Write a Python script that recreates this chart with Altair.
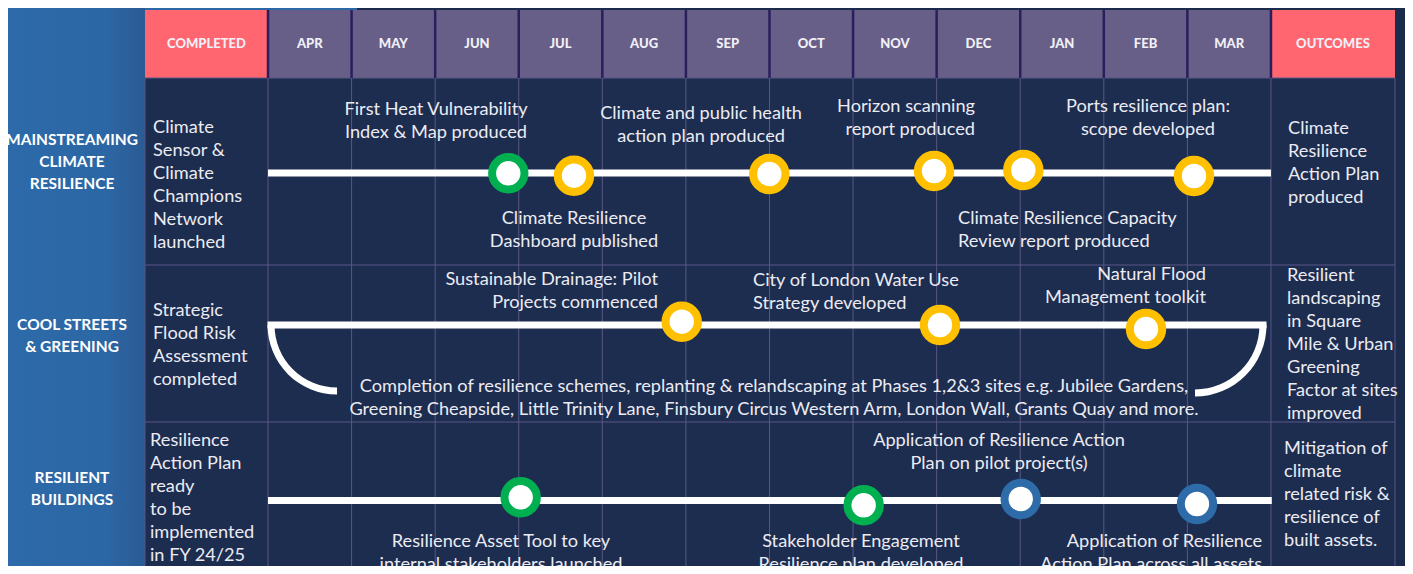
import altair as alt
import pandas as pd
import math

# ---------------- data ----------------
MONTHS = ["APR", "MAY", "JUN", "JUL", "AUG", "SEP", "OCT", "NOV", "DEC", "JAN", "FEB", "MAR"]
HEADERS = ["COMPLETED"] + MONTHS + ["OUTCOMES"]

THEMES = ["MAINSTREAMING\nCLIMATE\nRESILIENCE", "COOL STREETS\n& GREENING", "RESILIENT\nBUILDINGS"]
COMPLETED = [
    "Climate\nSensor &\nClimate\nChampions\nNetwork\nlaunched",
    "Strategic\nFlood Risk\nAssessment\ncompleted",
    "Resilience\nAction Plan\nready\nto be\nimplemented\nin FY 24/25",
]
OUTCOMES = [
    "Climate\nResilience\nAction Plan\nproduced",
    "Resilient\nlandscaping\nin Square\nMile & Urban\nGreening\nFactor at sites\nimproved",
    "Mitigation of\nclimate\nrelated risk &\nresilience of\nbuilt assets.",
]

# milestones: position in months from start of APR
EVENT_ROW = [0, 0, 0, 0, 0, 0, 1, 1, 1, 2, 2, 2, 2]
EVENT_MONTH = [2.875, 3.661, 5.998, 7.969, 9.037, 11.079, 4.950, 8.040, 10.505, 3.023, 7.127, 9.006, 11.115]
EVENT_SHIFT = [0.3, 2.7, 1.0, -2.0, -3.0, 3.0, -3.3, 0.0, 4.0, -3.2, 4.8, -1.5, 3.5]
EVENT_STATUS = ["Completed", "In progress", "In progress", "In progress", "In progress", "In progress",
                "In progress", "In progress", "In progress",
                "Completed", "Completed", "Planned", "Planned"]
STATUS_NAMES = ["Completed", "In progress", "Planned"]
STATUS_COLORS = ["#00b050", "#ffc000", "#2e6ca9"]

LABEL_TEXT = [
    "First Heat Vulnerability\nIndex & Map produced",
    "Climate and public health\naction plan produced",
    "Horizon scanning\nreport produced",
    "Ports resilience plan:\nscope developed",
    "Climate Resilience\nDashboard published",
    "Climate Resilience Capacity\nReview report produced",
    "Sustainable Drainage: Pilot\nProjects commenced",
    "City of London Water Use\nStrategy  developed",
    "Natural Flood\nManagement toolkit",
    "Completion of resilience schemes, replanting & relandscaping at Phases 1,2&3 sites e.g. Jubilee Gardens,\n"
    "Greening Cheapside, Little Trinity Lane, Finsbury Circus Western Arm, London Wall, Grants Quay and more.",
    "Application of Resilience Action\nPlan on pilot project(s)",
    "Resilience Asset Tool to key\ninternal stakeholders launched",
    "Stakeholder Engagement\nResilience plan developed",
    "Application of Resilience\nAction Plan across all assets",
]
LABEL_MONTH = [2.010, 5.181, 8.459, 10.529, 3.661, 8.256, 4.666, 5.803, 11.223, 6.054, 8.746, 2.788, 7.095, 11.893]
LABEL_Y = [110, 114, 107, 107, 219, 219, 280, 281, 275, 387, 441, 542, 542, 542]
LABEL_ALIGN = ["center", "center", "right", "center", "center", "left", "right", "left", "right",
               "center", "center", "center", "center", "right"]

# ---------------- layout (month units across, layout units down) ----------------
X0, X1 = -3.1108, 13.6037
COL_L, COL_R = -1.472, 13.484
HEAD_TOP, HEAD_BOT = 10, 78
ROW_EDGES = [78, 265, 422, 566]
LANE_Y = [173, 325, 500.5]
THEME_Y = [140, 325, 478]
COMPLETED_Y = [128, 311, 441]
COMPLETED_X = [-1.376, -1.376, -1.412]
OUTCOMES_Y = [129, 276, 449]
OUTCOMES_X = [12.204, 12.192, 12.156]

FONT = "Lato"
TEXT_COL = "#ecebf2"

W, H = 1397, 558
XS = alt.Scale(domain=[X0, X1], nice=False, zero=False)
YS = alt.Scale(domain=[8, 566], nice=False, zero=False, reverse=True)


def X(f):
    return alt.X(f, type="quantitative", scale=XS, axis=None)


def Y(f):
    return alt.Y(f, type="quantitative", scale=YS, axis=None)


# rectangles
rects = [dict(x=COL_L, x2=1.065, y=8, y2=HEAD_TOP, fill="#2c68a6"),
         dict(x=COL_L, x2=COL_R, y=HEAD_BOT, y2=566, fill="#1c2d50"),
         dict(x=COL_L, x2=0, y=HEAD_TOP, y2=HEAD_BOT, fill="#ff6670"),
         dict(x=12, x2=COL_R, y=HEAD_TOP, y2=HEAD_BOT, fill="#ff6670")]
for i in range(12):
    rects.append(dict(x=i, x2=i + 1, y=HEAD_TOP, y2=HEAD_BOT, fill="#675f87"))
rects_df = pd.DataFrame(rects)

panel_df = pd.DataFrame([dict(x=X0, x2=COL_L, y=8, y2=566)])
panel = alt.Chart(panel_df).mark_rect(
    color=alt.Gradient(gradient="linear", x1=0, x2=1, y1=0, y2=0,
                       stops=[alt.GradientStop(color="#2d6aa9", offset=0),
                              alt.GradientStop(color="#2c67a5", offset=0.7),
                              alt.GradientStop(color="#2a5b94", offset=1)])
).encode(x=X("x"), x2="x2", y=Y("y"), y2="y2")

rect_layer = alt.Chart(rects_df).mark_rect().encode(
    x=X("x"), x2="x2", y=Y("y"), y2="y2", fill=alt.Fill("fill:N", scale=None))

# grid lines
grid = [dict(x=v, x2=v, y=HEAD_BOT, y2=566) for v in [COL_L] + list(range(13)) + [COL_R]]
grid += [dict(x=COL_L, x2=COL_R, y=v, y2=v) for v in ROW_EDGES[:3]]
grid_layer = alt.Chart(pd.DataFrame(grid)).mark_rule(color="#5a5785", strokeWidth=1).encode(
    x=X("x"), x2="x2", y=Y("y"), y2="y2")

seps = pd.DataFrame([dict(x=v, y=HEAD_TOP, y2=HEAD_BOT) for v in range(13)])
sep_layer = alt.Chart(seps).mark_rule(color="#2a1f5c", strokeWidth=2.5).encode(
    x=X("x"), y=Y("y"), y2="y2")

# timeline lines
lanes = pd.DataFrame([dict(x=0, x2=12, y=LANE_Y[0]),
                      dict(x=-0.006, x2=11.947, y=LANE_Y[1]),
                      dict(x=0, x2=12.01, y=LANE_Y[2])])
lane_layer = alt.Chart(lanes).mark_rule(color="white", strokeWidth=7, strokeCap="butt").encode(
    x=X("x"), x2="x2", y=Y("y"))

arc_l = alt.Chart(pd.DataFrame([dict(x=0.826, y=LANE_Y[1])])).mark_arc(
    theta=math.pi, theta2=1.5 * math.pi, radius=69.5, radius2=62.5, fill="white"
).encode(x=X("x"), y=Y("y"))
arc_r = alt.Chart(pd.DataFrame([dict(x=11.091, y=LANE_Y[1])])).mark_arc(
    theta=0.5 * math.pi, theta2=math.pi, radius=71.5, radius2=64.5, fill="white"
).encode(x=X("x"), y=Y("y"))

# events
ev = pd.DataFrame(dict(month=EVENT_MONTH,
                       y=[LANE_Y[r] + s for r, s in zip(EVENT_ROW, EVENT_SHIFT)],
                       status=EVENT_STATUS))
ev_layer = alt.Chart(ev).mark_point(shape="circle", filled=True, fill="white", opacity=1,
                                    size=1050, strokeWidth=8).encode(
    x=X("month"), y=Y("y"),
    stroke=alt.Stroke("status:N", scale=alt.Scale(domain=STATUS_NAMES, range=STATUS_COLORS), legend=None))

# texts
lab = pd.DataFrame(dict(text=LABEL_TEXT, x=LABEL_MONTH, y=LABEL_Y, align=LABEL_ALIGN))
label_layers = []
for a in ["left", "center", "right"]:
    label_layers.append(
        alt.Chart(lab[lab["align"] == a]).mark_text(
            align=a, baseline="middle", lineBreak="\n", lineHeight=23,
            font=FONT, fontSize=18.2, color=TEXT_COL
        ).encode(x=X("x"), y=Y("y"), text="text:N"))

side = pd.DataFrame(dict(text=COMPLETED + OUTCOMES, x=COMPLETED_X + OUTCOMES_X, y=COMPLETED_Y + OUTCOMES_Y))
side_layer = alt.Chart(side).mark_text(
    align="left", baseline="middle", lineBreak="\n", lineHeight=23,
    font=FONT, fontSize=18.2, color=TEXT_COL
).encode(x=X("x"), y=Y("y"), text="text:N")

themes = pd.DataFrame(dict(text=THEMES, x=[-2.345] * 3, y=THEME_Y))
theme_layer = alt.Chart(themes).mark_text(
    align="center", baseline="middle", lineBreak="\n", lineHeight=22,
    font=FONT, fontSize=15.5, fontWeight="bold", color="white"
).encode(x=X("x"), y=Y("y"), text="text:N")

hx = [-0.736] + [i + 0.5 for i in range(12)] + [12.742]
heads = pd.DataFrame(dict(text=HEADERS, x=hx, y=[44] * 14))
head_layer = alt.Chart(heads).mark_text(
    align="center", baseline="middle", font=FONT, fontSize=13, fontWeight=900, color="#f2f0f7"
).encode(x=X("x"), y=Y("y"), text="text:N")

chart = alt.layer(
    panel, rect_layer, grid_layer, sep_layer, lane_layer, arc_l, arc_r, ev_layer,
    *label_layers, side_layer, theme_layer, head_layer
).properties(width=W, height=H, padding=0, autosize=alt.AutoSizeParams(type="none"),
             background="#1b2b4c").configure_view(stroke=None)

chart.save("out.html", embed_options={"renderer": "svg", "actions": False})
